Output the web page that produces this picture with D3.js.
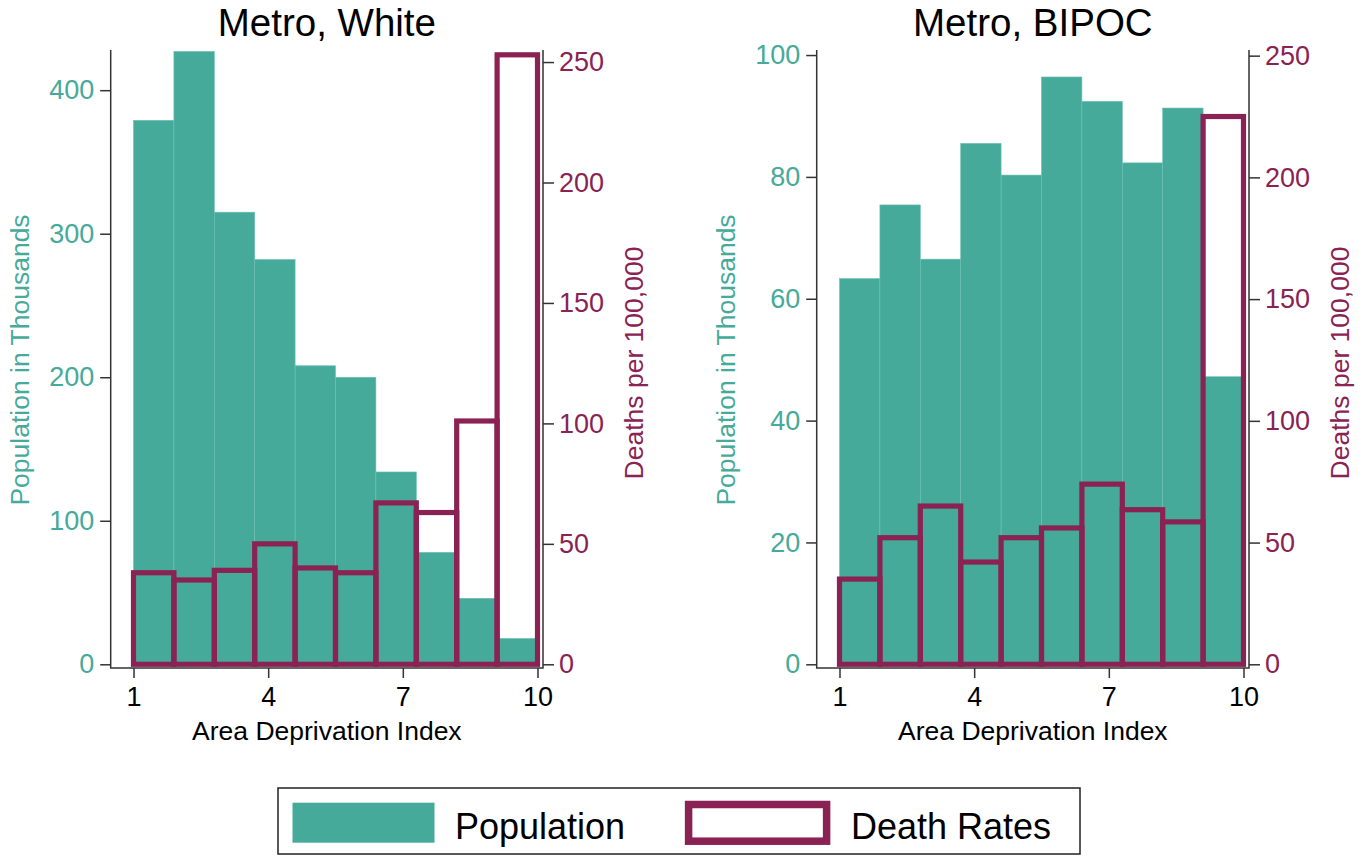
<!DOCTYPE html>
<meta charset="utf-8">
<head>
<script src="https://d3js.org/d3.v7.min.js"></script>
<style>
  body { margin: 0; background: #fff; }
  svg text { font-family: "Liberation Sans", Arial, Helvetica, sans-serif; }
</style>
</head>
<body>
<svg id="chart" width="1366" height="858"></svg>
<script>
  // histogram bins of the Area Deprivation Index (10 bins between 1 and 10)
  var binEdges = [1, 1.9, 2.8, 3.7, 4.6, 5.5, 6.4, 7.3, 8.2, 9.1, 10];
  var xTicks = [1, 4, 7, 10];

  // Metro, White
  var whitePop = [379, 427, 315, 282, 208, 200, 134, 78, 46, 18];
  var whiteDeath = [38, 35, 39, 50, 40, 38, 67, 63, 101, 253];
  var whitePopTicks = [0, 100, 200, 300, 400];

  // Metro, BIPOC
  var bipocPop = [63.3, 75.4, 66.5, 85.5, 80.3, 96.4, 92.4, 82.3, 91.3, 47.2];
  var bipocDeath = [35, 52, 65, 42, 52, 56, 74, 63.5, 58.5, 225];
  var bipocPopTicks = [0, 20, 40, 60, 80, 100];

  var deathTicks = [0, 50, 100, 150, 200, 250];

  var teal = "#46aa9a",
      maroon = "#8a2253",
      axisCol = "#333";

  var svg = d3.select("#chart");
  svg.append("rect").attr("width", 1366).attr("height", 858).attr("fill", "#fff");

  var panels = [
    { title: "Metro, White", left: 110.7, pop: whitePop, death: whiteDeath,
      popTicks: whitePopTicks, popMax: 428, deathMax: 255, top: 50 },
    { title: "Metro, BIPOC", left: 816.7, pop: bipocPop, death: bipocDeath,
      popTicks: bipocPopTicks, popMax: 100.5, deathMax: 251.5, top: 52 }
  ];

  var plotW = 432.3,
      zeroY = 664.3,
      axisY = 668,
      axisTop = 50;

  panels.forEach(function (p) {
    var right = p.left + plotW;
    var g = svg.append("g");

    var x = d3.scaleLinear().domain([1, 10]).range([p.left + 22.8, right - 5.5]);
    var yPop = d3.scaleLinear().domain([0, p.popMax]).range([zeroY, p.top]);
    var yDeath = d3.scaleLinear().domain([0, p.deathMax]).range([zeroY, p.top]);

    var bins = p.pop.map(function (v, i) {
      return { x0: binEdges[i], x1: binEdges[i + 1], pop: v, death: p.death[i] };
    });

    // population bars
    g.append("g").selectAll("rect")
      .data(bins)
      .enter().append("rect")
      .attr("x", function (d) { return x(d.x0); })
      .attr("width", function (d) { return x(d.x1) - x(d.x0); })
      .attr("y", function (d) { return yPop(d.pop); })
      .attr("height", function (d) { return zeroY - yPop(d.pop); })
      .attr("fill", teal)
      .attr("stroke", "#6cc0b2")
      .attr("stroke-width", 0.6);

    // death rate outlines
    g.append("g").selectAll("rect")
      .data(bins)
      .enter().append("rect")
      .attr("x", function (d) { return x(d.x0); })
      .attr("width", function (d) { return x(d.x1) - x(d.x0); })
      .attr("y", function (d) { return yDeath(d.death); })
      .attr("height", function (d) { return zeroY - yDeath(d.death); })
      .attr("fill", "none")
      .attr("stroke", maroon)
      .attr("stroke-width", 5.2);

    // left axis
    var la = g.append("g").attr("transform", "translate(" + p.left + ",0)")
      .call(d3.axisLeft(yPop).tickValues(p.popTicks).tickSize(10.5).tickPadding(6).tickSizeOuter(0));
    la.select(".domain").remove();
    la.selectAll("line").attr("stroke", axisCol).attr("stroke-width", 1.5);
    la.selectAll("text").attr("fill", teal).style("font-size", "27px");

    // right axis
    var ra = g.append("g").attr("transform", "translate(" + right + ",0)")
      .call(d3.axisRight(yDeath).tickValues(deathTicks).tickSize(11).tickPadding(5).tickSizeOuter(0));
    ra.select(".domain").remove();
    ra.selectAll("line").attr("stroke", axisCol).attr("stroke-width", 1.5);
    ra.selectAll("text").attr("fill", maroon).style("font-size", "27px");

    // bottom axis
    var ba = g.append("g").attr("transform", "translate(0," + axisY + ")")
      .call(d3.axisBottom(x).tickValues(xTicks).tickSize(10).tickPadding(9).tickSizeOuter(0));
    ba.select(".domain").remove();
    ba.selectAll("line").attr("stroke", axisCol).attr("stroke-width", 1.5);
    ba.selectAll("text").attr("fill", "#000").style("font-size", "27px");

    // axis lines
    g.append("path")
      .attr("d", "M" + p.left + "," + axisTop + "V" + axisY + "H" + right + "V" + axisTop)
      .attr("fill", "none")
      .attr("stroke", axisCol)
      .attr("stroke-width", 1.5);

    // titles
    g.append("text")
      .attr("x", (p.left + right) / 2).attr("y", 36)
      .attr("text-anchor", "middle")
      .style("font-size", "38.5px")
      .text(p.title);

    g.append("text")
      .attr("x", (p.left + right) / 2).attr("y", 740)
      .attr("text-anchor", "middle")
      .style("font-size", "26.5px")
      .text("Area Deprivation Index");

    g.append("text")
      .attr("transform", "translate(" + (p.left - 82) + ",360) rotate(-90)")
      .attr("text-anchor", "middle")
      .attr("fill", teal)
      .style("font-size", "26.5px")
      .text("Population in Thousands");

    g.append("text")
      .attr("transform", "translate(" + (right + 99.5) + ",363) rotate(-90)")
      .attr("text-anchor", "middle")
      .attr("fill", maroon)
      .style("font-size", "26.5px")
      .text("Deaths per 100,000");
  });

  // legend
  var lg = svg.append("g");
  lg.append("rect")
    .attr("x", 278).attr("y", 788).attr("width", 802).attr("height", 66)
    .attr("fill", "#fff").attr("stroke", "#222").attr("stroke-width", 1.5);
  lg.append("rect")
    .attr("x", 292.5).attr("y", 802.7).attr("width", 142).attr("height", 40)
    .attr("fill", teal);
  lg.append("text")
    .attr("x", 455).attr("y", 839)
    .style("font-size", "36px")
    .text("Population");
  lg.append("rect")
    .attr("x", 688.6).attr("y", 804.5).attr("width", 138).attr("height", 36.7)
    .attr("fill", "#fff").attr("stroke", maroon).attr("stroke-width", 7.5);
  lg.append("text")
    .attr("x", 851).attr("y", 839)
    .style("font-size", "36px")
    .text("Death Rates");
</script>
</body>
